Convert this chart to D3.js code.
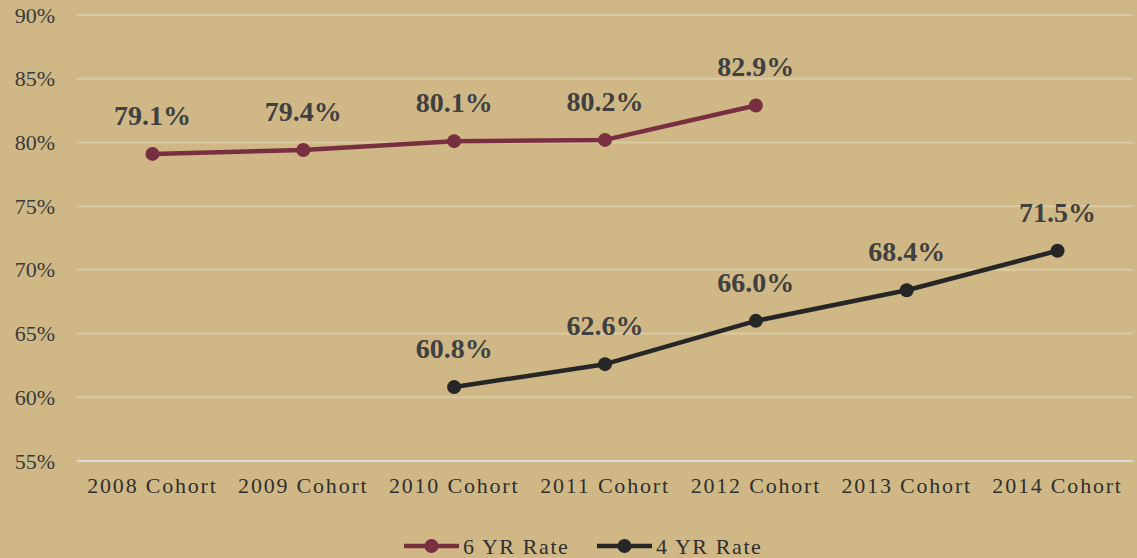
<!DOCTYPE html>
<html><head><meta charset="utf-8">
<script src="https://cdn.jsdelivr.net/npm/d3@7"></script>
<style>
html,body{margin:0;padding:0;background:#cfb886;}
svg{display:block;}
</style></head>
<body><svg id="c" width="1137" height="558"></svg>
<script>
const categories = ["2008 Cohort","2009 Cohort","2010 Cohort","2011 Cohort","2012 Cohort","2013 Cohort","2014 Cohort"];
const sixYr = [79.1, 79.4, 80.1, 80.2, 82.9, null, null];
const fourYr = [null, null, 60.8, 62.6, 66.0, 68.4, 71.5];
const yTicks = [55, 60, 65, 70, 75, 80, 85, 90];
const seriesNames = ["6 YR Rate", "4 YR Rate"];
const seriesColors = ["#782f40", "#262626"];

const svg = d3.select("#c");
const W = 1137, H = 558;
svg.append("rect").attr("width", W).attr("height", H).attr("fill", "#cfb886");

const x = d3.scaleBand().domain(categories).range([77, 1133]);
const y = d3.scaleLinear().domain([55, 90]).range([461, 15]);
const serif = "'Liberation Serif','DejaVu Serif',serif";

// gridlines
svg.append("g").selectAll("line").data(yTicks).join("line")
  .attr("x1", 77).attr("x2", 1133)
  .attr("y1", d => y(d)).attr("y2", d => y(d))
  .attr("stroke", d => d === 55 ? "#dcdad4" : "#dccaa2")
  .attr("stroke-width", 2);

// y axis labels
const yAxis = d3.axisLeft(y).tickValues(yTicks).tickFormat(d => d + "%").tickSize(0).tickPadding(0);
const gy = svg.append("g").attr("transform", "translate(55,0)").call(yAxis);
gy.select(".domain").remove();
gy.selectAll("text").attr("font-family", serif).attr("font-size", 22).attr("fill", "#3a3a3a");

// x axis labels
const xAxis = d3.axisBottom(x).tickSize(0).tickPadding(0);
const gx = svg.append("g").attr("transform", "translate(0,477)").call(xAxis);
gx.select(".domain").remove();
gx.selectAll("text").attr("font-family", serif).attr("font-size", 22).attr("fill", "#2f2f2f")
  .attr("letter-spacing", "1.8px").attr("dy", "0.71em");

const series = [sixYr, fourYr];
series.forEach((vals, i) => {
  const pts = categories.map((c, j) => ({c, v: vals[j]})).filter(d => d.v !== null);
  const line = d3.line().x(d => x(d.c) + x.bandwidth() / 2).y(d => y(d.v));
  svg.append("path").datum(pts).attr("d", line)
    .attr("fill", "none").attr("stroke", seriesColors[i]).attr("stroke-width", 4.5)
    .attr("stroke-linejoin", "round").attr("stroke-linecap", "round");
  svg.append("g").selectAll("circle").data(pts).join("circle")
    .attr("cx", d => x(d.c) + x.bandwidth() / 2).attr("cy", d => y(d.v))
    .attr("r", 7).attr("fill", seriesColors[i]);
  svg.append("g").selectAll("text").data(pts).join("text")
    .attr("x", d => x(d.c) + x.bandwidth() / 2).attr("y", d => y(d.v) - 29)
    .attr("text-anchor", "middle").attr("font-family", serif).attr("font-weight", "bold")
    .attr("font-size", 28).attr("fill", "#404040")
    .text(d => d.v.toFixed(1) + "%");
});

// legend
const legendX = [404, 597];
seriesNames.forEach((n, i) => {
  const g = svg.append("g").attr("transform", `translate(${legendX[i]},546)`);
  g.append("line").attr("x1", 0).attr("x2", 55).attr("y1", 0).attr("y2", 0)
    .attr("stroke", seriesColors[i]).attr("stroke-width", 4.5);
  g.append("circle").attr("cx", 27.5).attr("cy", 0).attr("r", 7).attr("fill", seriesColors[i]);
  g.append("text").attr("x", 59).attr("y", 0).attr("dy", "0.35em")
    .attr("font-family", serif).attr("font-size", 22).attr("fill", "#2f2f2f")
    .attr("letter-spacing", "1.6px").text(n);
});
</script></body></html>
